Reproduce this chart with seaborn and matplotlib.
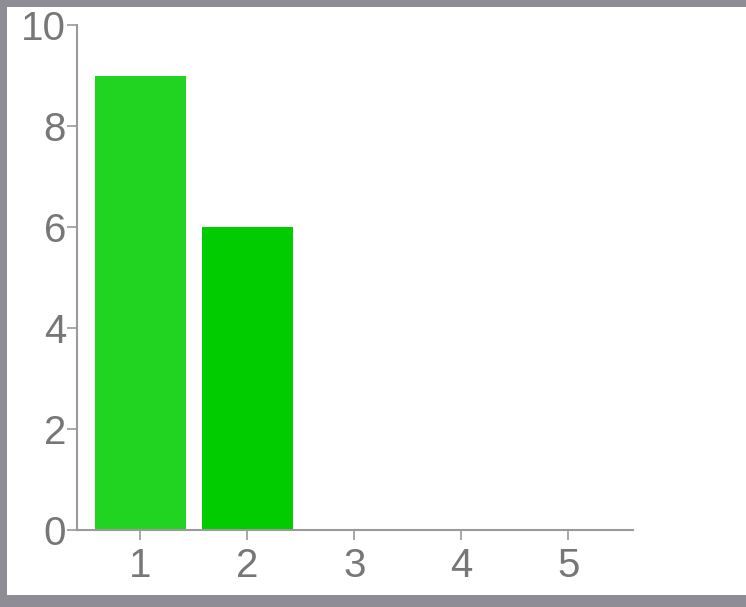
import matplotlib
matplotlib.use("Agg")
import matplotlib.pyplot as plt
from matplotlib.patches import Rectangle
import seaborn as sns
import pandas as pd

categories = ["1", "2", "3", "4", "5"]
values = [9, 6, 0, 0, 0]
bar_colors = ["#22d422", "#00cc00", "#00cc00", "#00cc00", "#00cc00"]
y_ticks = [0, 2, 4, 6, 8, 10]

sns.set_theme(style="white")
plt.rcParams["font.family"] = ["Liberation Sans", "DejaVu Sans"]

fig = plt.figure(figsize=(7.46, 6.07), dpi=100)
fig.patch.set_facecolor("#8e8c94")
fig.add_artist(Rectangle((7 / 746, 12 / 607), 1 - 7 / 746, 1 - 12 / 607 - 7 / 607,
                         transform=fig.transFigure, facecolor="white",
                         edgecolor="none", zorder=-10))
ax = fig.add_axes([77 / 746, 77 / 607, (633 - 77) / 746, (530 - 25) / 607])
ax.set_facecolor("none")
ax.set_zorder(5)

df = pd.DataFrame({"cat": categories, "val": values})
sns.barplot(data=df, x="cat", y="val", hue="cat", palette=bar_colors,
            legend=False, width=0.85, linewidth=0, saturation=1, ax=ax)

ax.set_xlim(-0.593, 4.607)
ax.set_ylim(0, 10)
ax.set_yticks(y_ticks)
ax.set_yticklabels([str(t) for t in y_ticks])
ax.set_xlabel("")
ax.set_ylabel("")
for s in ["top", "right"]:
    ax.spines[s].set_visible(False)
for s in ["left", "bottom"]:
    ax.spines[s].set_color("#9a9a9a")
    ax.spines[s].set_linewidth(1.5)
ax.tick_params(axis="both", bottom=True, left=True, colors="#9a9a9a",
               labelcolor="#777777", labelsize=29, length=7, width=1.2)
ax.tick_params(axis="y", pad=1)
ax.tick_params(axis="x", pad=5)
ax.grid(False)

fig.savefig("out.png", dpi=100, facecolor=fig.get_facecolor())
